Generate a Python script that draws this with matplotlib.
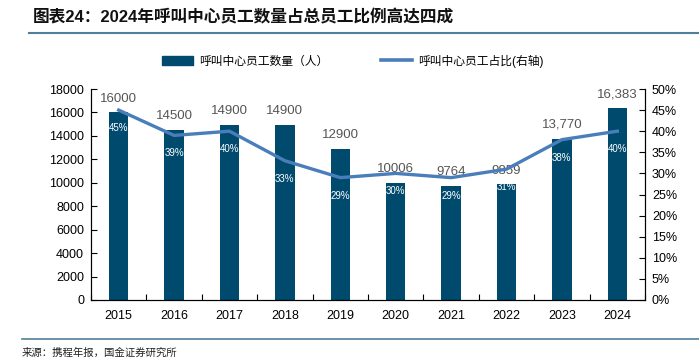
import matplotlib
matplotlib.use("Agg")
import matplotlib.pyplot as plt
from matplotlib.lines import Line2D
from matplotlib.patches import Patch
from matplotlib.ticker import FuncFormatter

plt.rcParams['font.family'] = ['Liberation Sans', 'Noto Sans CJK SC', 'DejaVu Sans']

years = ['2015', '2016', '2017', '2018', '2019', '2020', '2021', '2022', '2023', '2024']
staff = [16000, 14500, 14900, 14900, 12900, 10006, 9764, 9859, 13770, 16383]
staff_labels = ['16000', '14500', '14900', '14900', '12900', '10006', '9764', '9859', '13,770', '16,383']
share = [45, 39, 40, 33, 29, 30, 29, 31, 38, 40]
share_labels = ['45%', '39%', '40%', '33%', '29%', '30%', '29%', '31%', '38%', '40%']

bar_color = '#004a6e'
line_color = '#4a7ebb'
W, H = 699, 363
fig = plt.figure(figsize=(W / 100, H / 100), dpi=100)
ax = fig.add_axes([91 / W, 1 - 300 / H, (645 - 91) / W, (300 - 89) / H])
ax2 = ax.twinx()

x = list(range(len(years)))
ax.bar(x, staff, width=0.35, color=bar_color, zorder=2)
ax.set_xlim(-0.5, len(years) - 0.5)
ax.set_ylim(0, 18000)
ax.set_yticks(range(0, 18001, 2000))
ax.set_xticks([i - 0.5 for i in range(len(years) + 1)], minor=False)
ax.set_xticklabels([])
ax.set_xticks(x, minor=True)
ax.set_xticklabels(years, minor=True)
ax.tick_params(axis='x', which='major', direction='in', length=4, width=0.8)
ax.tick_params(axis='x', which='minor', length=0, labelsize=9, pad=7)
ax.tick_params(axis='y', direction='in', length=4, width=0.8, labelsize=9, pad=5)
ax.spines['top'].set_visible(False)
ax2.spines['top'].set_visible(False)

for i, (v, lab) in enumerate(zip(staff, staff_labels)):
    ax.annotate(lab, (i, v), xytext=(0, 10), textcoords='offset points',
                ha='center', va='center', fontsize=9.5, color='#555555', zorder=5)

ax2.plot(x, share, color=line_color, linewidth=2.4, zorder=3)
ax2.set_ylim(0, 50)
ax2.set_yticks(range(0, 51, 5))
ax2.yaxis.set_major_formatter(FuncFormatter(lambda v, p: f'{int(v)}%'))
ax2.tick_params(axis='y', direction='in', length=4, width=0.8, labelsize=9, pad=5)
for i, (v, lab) in enumerate(zip(share, share_labels)):
    ax2.annotate(lab, (i, v), xytext=(0, -13), textcoords='offset points',
                 ha='center', va='center', fontsize=7, color='white', zorder=5)

handles = [Patch(color=bar_color), Line2D([0], [0], color=line_color, lw=2.6)]
fig.legend(handles, ['呼叫中心员工数量（人）', '呼叫中心员工占比(右轴)'],
           loc='center', bbox_to_anchor=(0.505, 1 - 61 / H), ncol=2, frameon=False,
           fontsize=8.5, handlelength=2.6, handleheight=0.9, columnspacing=4.5,
           handletextpad=0.5)

fig.text(33 / W, 1 - 17 / H, '图表24：2024年呼叫中心员工数量占总员工比例高达四成',
         fontsize=12, fontweight='bold', va='center', ha='left', color='#111111')
fig.add_artist(Line2D([29 / W, 1.0], [1 - 33 / H, 1 - 33 / H], color='#4f7f9a', lw=1.5))
fig.add_artist(Line2D([22 / W, 1.0], [1 - 339 / H, 1 - 339 / H], color='#4f7f9a', lw=1.2))
fig.text(22 / W, 1 - 353 / H, '来源：携程年报，国金证券研究所', fontsize=7.5,
         va='center', ha='left', color='#222222')

fig.savefig('out.png', dpi=100)
